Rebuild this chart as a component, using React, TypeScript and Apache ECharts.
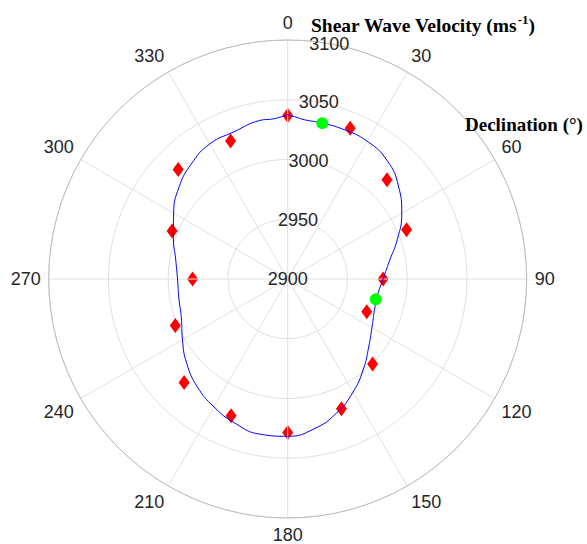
import React, { useEffect, useRef } from "react";
import * as echarts from "echarts";

// Fitted velocity curve (declination in degrees, velocity in m/s)
const curveAngles = [0, 3, 6, 12, 20, 30, 40, 50, 60, 70, 80, 90, 100, 110, 120, 130, 140, 150, 160, 170, 180, 190, 200, 210, 220, 230, 240, 250, 260, 270, 280, 290, 300, 310, 320, 330, 340, 350, 355, 360];
const curveVelocity = [3037.5, 3035.6, 3034.0, 3033.6, 3033.6, 3033.1, 3029.4, 3021.0, 3010.2, 2997.7, 2986.4, 2979.8, 2976.4, 2977.2, 2981.4, 2988.5, 2998.5, 3009.3, 3019.4, 3027.3, 3031.6, 3031.9, 3028.5, 3023.5, 3017.7, 3010.2, 3001.7, 2994.7, 2992.5, 2992.2, 2995.2, 3001.8, 3010.2, 3018.9, 3025.6, 3030.5, 3031.1, 3034.7, 3034.6, 3037.5];

// Measured velocities (red diamonds)
const measuredAngles = [0, 22.5, 45, 67.5, 90, 112.5, 135, 157.5, 180, 202.5, 225, 247.5, 270, 292.5, 315, 337.5];
const measuredVelocity = [3036.9, 3036.6, 3017.5, 3007.7, 2979.8, 2971.6, 3000.5, 3017.5, 3028.5, 3023.8, 3022.6, 3001.8, 2979.6, 3004.7, 3029.6, 3024.9];

// Highlighted points (green circles)
const highlightAngles = [12.5, 103];
const highlightVelocity = [3033.6, 2975.6];

// Axis settings
const radiusMin = 2900;
const radiusMax = 3100;
const radiusStep = 50;
const angleStep = 30;

const CX = 287.7;
const CY = 279;
const R = 239;

const labelFont = "'Liberation Sans', Arial, Helvetica, sans-serif";
const titleFont = "'Liberation Serif', 'Times New Roman', serif";

export default function App() {
  const ref = useRef<HTMLDivElement>(null);

  useEffect(() => {
    document.body.style.margin = "0";
    if (!ref.current) return;
    const chart = echarts.init(ref.current, null, { renderer: "svg" });

    const curveData = curveAngles.map((a, i) => [curveVelocity[i], a]);
    const measuredData = measuredAngles.map((a, i) => [measuredVelocity[i], a]);
    const highlightData = highlightAngles.map((a, i) => [highlightVelocity[i], a]);

    const option: any = {
      animation: false,
      backgroundColor: "#ffffff",
      title: [
        {
          text: "{t|Shear Wave Velocity (ms}{s|-1}{t|)}",
          left: 311,
          top: 13,
          padding: 0,
          textStyle: {
            rich: {
              t: { fontFamily: titleFont, fontWeight: "bold", fontSize: 19.5, color: "#000", lineHeight: 24 },
              s: { fontFamily: titleFont, fontWeight: "bold", fontSize: 13, color: "#000", lineHeight: 14, verticalAlign: "top" },
            },
          },
        },
        {
          text: "{t|Declination (°)}",
          left: 465,
          top: 112,
          padding: 0,
          textStyle: {
            rich: {
              t: { fontFamily: titleFont, fontWeight: "bold", fontSize: 19, color: "#000", lineHeight: 24 },
            },
          },
        },
      ],
      polar: [
        { center: [CX, CY], radius: R },
        { center: [CX, CY], radius: R },
      ],
      angleAxis: [
        {
          polarIndex: 0,
          type: "value",
          min: 0,
          max: 360,
          interval: angleStep,
          startAngle: 90,
          clockwise: true,
          z: 3,
          axisLine: { show: true, lineStyle: { color: "#bdbdbd", width: 1 } },
          axisTick: { show: false },
          axisLabel: {
            margin: 8,
            fontSize: 18,
            fontFamily: labelFont,
            color: "#262626",
            formatter: (v: number) => (v === 360 ? "" : String(v)),
          },
          splitLine: { show: true, lineStyle: { color: "#e0e0e0", width: 1 } },
        },
        {
          polarIndex: 1,
          type: "value",
          min: 0,
          max: 360,
          startAngle: 80,
          clockwise: true,
          show: false,
        },
      ],
      radiusAxis: [
        {
          polarIndex: 0,
          type: "value",
          min: radiusMin,
          max: radiusMax,
          interval: radiusStep,
          z: 1,
          axisLine: { show: false },
          axisTick: { show: false },
          axisLabel: { show: false },
          splitLine: { show: true, lineStyle: { color: "#e0e0e0", width: 1 } },
        },
        {
          polarIndex: 1,
          type: "value",
          min: radiusMin,
          max: radiusMax,
          interval: radiusStep,
          z: 5,
          axisLine: { show: false },
          axisTick: { show: false },
          splitLine: { show: false },
          axisLabel: {
            margin: 0,
            align: "center",
            verticalAlign: "middle",
            fontSize: 18,
            fontFamily: labelFont,
            color: "#262626",
            formatter: (v: number) => String(v),
          },
        },
      ],
      series: [
        {
          type: "scatter",
          coordinateSystem: "polar",
          polarIndex: 0,
          data: measuredData,
          symbol: "diamond",
          symbolSize: [11, 15],
          itemStyle: { color: "#ff0000", opacity: 1 },
          z: 2,
        },
        {
          type: "line",
          coordinateSystem: "polar",
          polarIndex: 0,
          data: curveData,
          showSymbol: false,
          smooth: 0.5,
          lineStyle: { color: "#0000ff", width: 1 },
          z: 3,
        },
        {
          type: "scatter",
          coordinateSystem: "polar",
          polarIndex: 0,
          data: highlightData,
          symbol: "circle",
          symbolSize: 12,
          itemStyle: { color: "#00ff00", opacity: 1 },
          z: 4,
        },
      ],
    };

    chart.setOption(option);
    return () => {
      chart.dispose();
    };
  }, []);

  return <div ref={ref} style={{ width: 587, height: 544 }} />;
}
